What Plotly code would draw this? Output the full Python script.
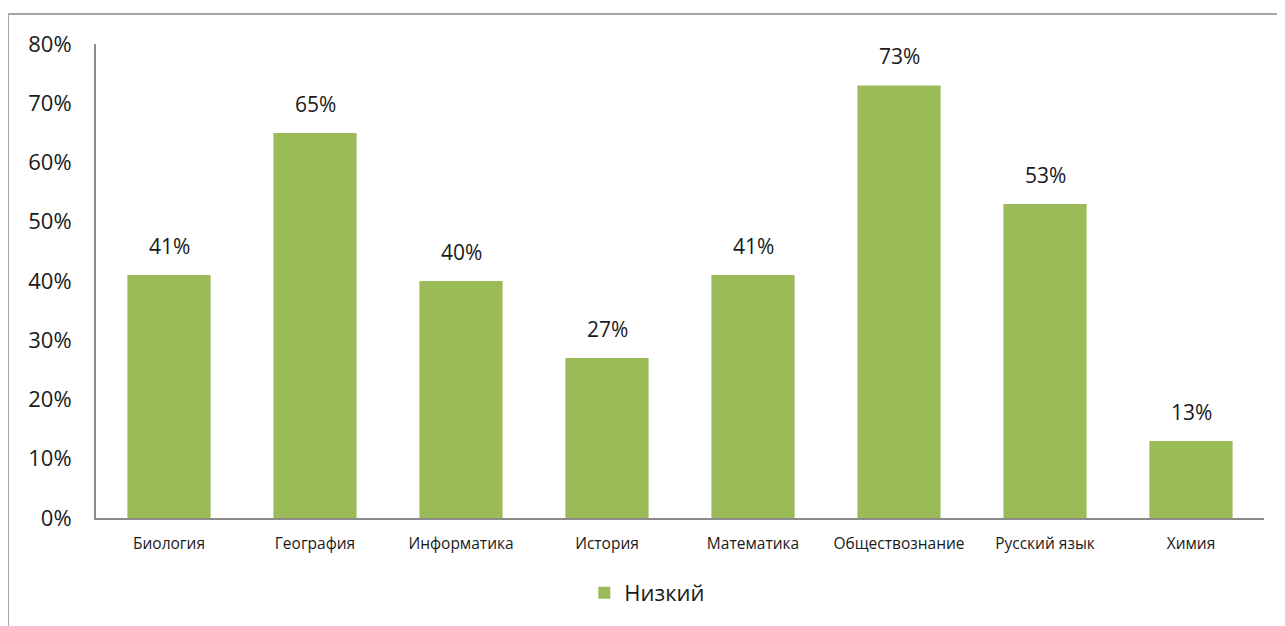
import plotly.graph_objects as go

categories = ["Биология", "География", "Информатика", "История", "Математика",
              "Обществознание", "Русский язык", "Химия"]
values = [0.41, 0.65, 0.40, 0.27, 0.41, 0.73, 0.53, 0.13]
series_name = "Низкий"
tick_vals = [0, 0.1, 0.2, 0.3, 0.4, 0.5, 0.6, 0.7, 0.8]
tick_text = ["0%", "10%", "20%", "30%", "40%", "50%", "60%", "70%", "80%"]

FONT = "Open Sans"
GREEN = "#9BBB59"
AXIS = "#8c8c8c"

fig = go.Figure()
fig.add_trace(go.Bar(
    x=categories, y=values, name=series_name,
    marker=dict(color=GREEN, line=dict(width=0)),
    width=0.57,
    showlegend=True,
))

for c, v in zip(categories, values):
    fig.add_annotation(
        x=c, y=v, text=f"{round(v*100)}%", showarrow=False,
        yanchor="bottom", yshift=13,
        font=dict(family=FONT, size=21, color="#1a1a1a"),
    )

fig.update_layout(
    width=1277, height=618,
    margin=dict(l=88, r=21, t=36, b=108, autoexpand=False),
    paper_bgcolor="white", plot_bgcolor="white",
    font=dict(family=FONT, color="#1a1a1a"),
    bargap=0.43,
    xaxis=dict(
        showgrid=False, showline=True, linecolor=AXIS, linewidth=2,
        ticks="", tickfont=dict(family=FONT, size=15.5, color="#1a1a1a"),
        ticklabelstandoff=10, zeroline=False, automargin=False,
    ),
    yaxis=dict(
        range=[0, 0.8], tickvals=tick_vals, ticktext=tick_text,
        showgrid=False, showline=True, linecolor=AXIS, linewidth=2,
        ticks="", tickfont=dict(family=FONT, size=22, color="#1a1a1a"),
        ticklabelstandoff=18, zeroline=False, automargin=False,
    ),
    legend=dict(
        orientation="h", x=0.472, xanchor="center", y=-0.158, yanchor="middle",
        font=dict(family=FONT, size=22, color="#1a1a1a"),
        itemwidth=30, bgcolor="rgba(0,0,0,0)",
    ),
    shapes=[
        dict(type="line", xref="paper", yref="paper",
             x0=-0.0753, x1=1.1, y0=1.0633, y1=1.0633,
             line=dict(color="#a6a6a6", width=2)),
        dict(type="line", xref="paper", yref="paper",
             x0=-0.0753, x1=-0.0753, y0=1.0633, y1=-0.3,
             line=dict(color="#a6a6a6", width=2)),
    ],
)

fig.write_html("out.html")
